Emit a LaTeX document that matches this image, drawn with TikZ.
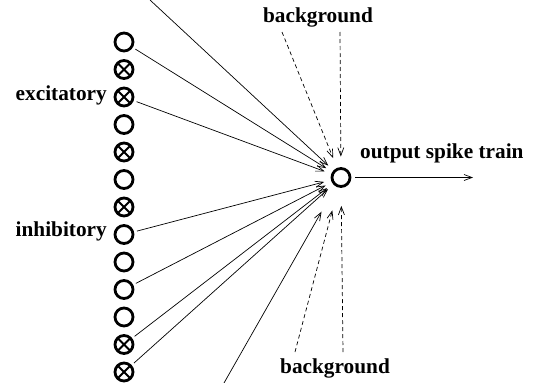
\documentclass[tikz,border=0pt]{standalone}
\usepackage{fontspec}
\setmainfont{Liberation Serif}
\usetikzlibrary{arrows.meta}
\begin{document}
\begin{tikzpicture}[x=1pt,y=-1pt,
 unit/.style={circle,draw,line width=2.8pt,minimum size=18pt,inner sep=0pt},
 uo/.style={unit},
 ux/.style={unit,path picture={\draw[line width=2.1pt] (path picture bounding box.north west)--(path picture bounding box.south east) (path picture bounding box.north east)--(path picture bounding box.south west);}},
 syn/.style={line width=0.7pt,-{Straight Barb[length=8pt,width=6pt]},shorten <=3pt,shorten >=7pt},
 bg/.style={syn,dash pattern=on 4pt off 3pt},
 lbl/.style={font=\fontsize{21.3}{24}\selectfont\bfseries,inner sep=0pt}]
\useasboundingbox (0,0) rectangle (547,383);
\foreach \t [count=\i from 0] in {o,x,x,o,x,o,x,o,o,o,o,x,x}
  \node[u\t] (c\i) at (124,{42+27.5*\i}) {};
\node[unit] (n) at (341,177.5) {};
\coordinate (topsrc) at (150,0);
\coordinate (botsrc) at (224,383);
\coordinate (bgt1) at (282,32);
\coordinate (bgt2) at (340,32);
\coordinate (bgb1) at (295,352);
\coordinate (bgb2) at (343,352);
\coordinate (out) at (473,177.5);
\node[lbl,anchor=base] (bgtop) at (318,22) {background};
\node[lbl,anchor=base west] (bgbot) at (280,373) {background};
\node[lbl,anchor=base west] (outl) at (360,158) {output spike train};
\node[lbl,anchor=base east] (exc) at (107,100) {excitatory};
\node[lbl,anchor=base east] (inh) at (107,236) {inhibitory};
\draw[syn,shorten <=0pt] (topsrc) -- (n);
\foreach \i in {0,2,7,9,11,12} \draw[syn] (c\i) -- (n);
\draw[syn,shorten <=0pt,shorten >=29pt] (botsrc) -- (n);
\draw[bg,shorten <=0pt,shorten >=10.5pt] (bgt1) -- (n);
\draw[bg,shorten <=0pt,shorten >=10.5pt] (bgt2) -- (n);
\draw[bg,shorten <=0pt,shorten >=23.5pt] (bgb1) -- (n);
\draw[bg,shorten <=0pt,shorten >=18pt] (bgb2) -- (n);
\draw[syn,shorten <=4pt,shorten >=0pt] (n) -- (out);
\end{tikzpicture}
\end{document}
